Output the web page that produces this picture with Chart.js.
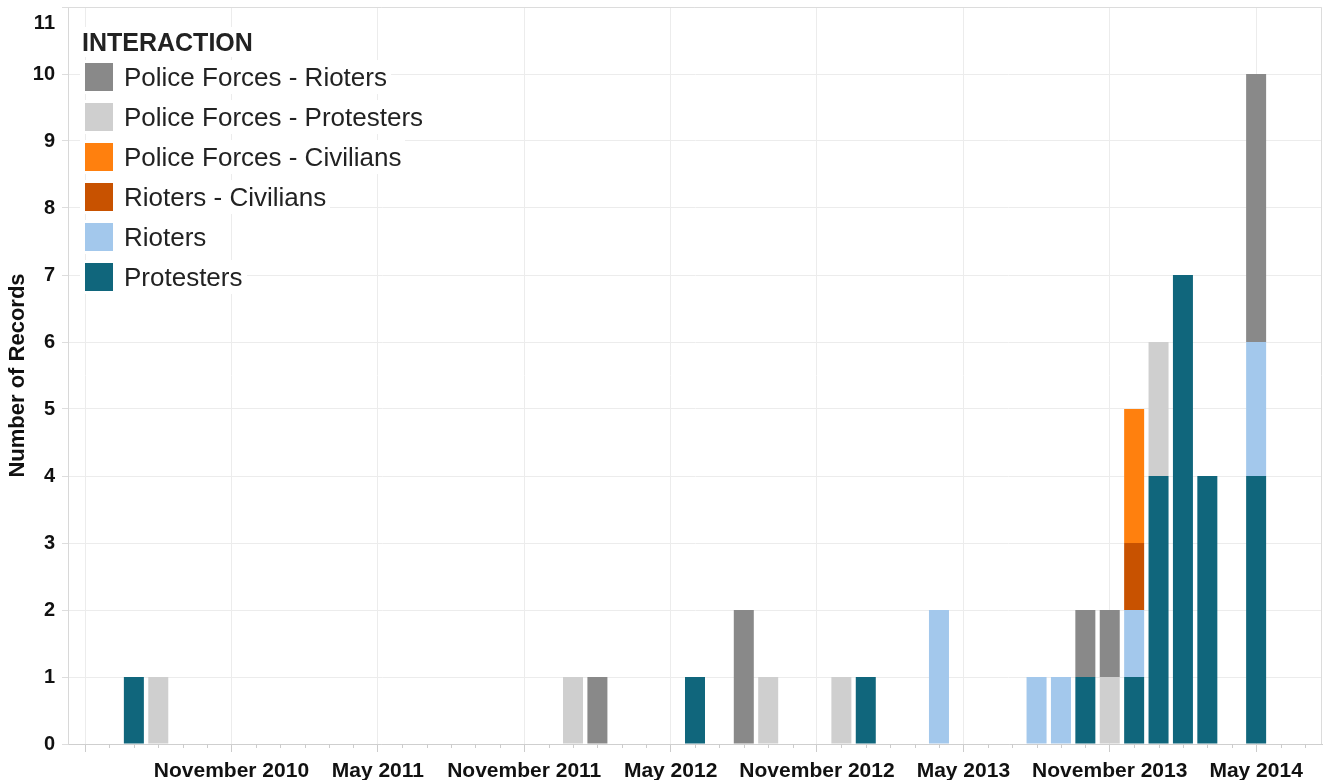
<!DOCTYPE html>
<html>
<head>
<meta charset="utf-8">
<script src="https://cdn.jsdelivr.net/npm/chart.js@4/dist/chart.umd.min.js"></script>
<style>
  body { margin: 0; background: #fff; }
  #wrap { position: relative; width: 1328px; height: 780px; }
  #legend { position: absolute; left: 80px; top: 27px; font-family: "Liberation Sans", Arial, sans-serif; color: #222; }
  #legend .title { font-weight: bold; font-size: 25px; height: 30px; line-height: 30px; padding-left: 2px; background: #fff; display: inline-block; }
  #legend .row { height: 40px; display: flex; align-items: center; }
  #legend .item { display: inline-flex; align-items: center; background: #fff; padding-left: 5px; padding-right: 4px; height: 34px; }
  #legend .sw { width: 28px; height: 28px; margin-right: 11px; }
  #legend .txt { font-size: 26px; line-height: 30px; }
</style>
</head>
<body>
<div id="wrap">
  <canvas id="chart" width="1328" height="780"></canvas>
  <div id="legend"></div>
</div>
<script>
const months = [
  'May 2010', 'Jun 2010', 'Jul 2010', 'Aug 2010', 'Sep 2010', 'Oct 2010', 'Nov 2010', 'Dec 2010',
  'Jan 2011', 'Feb 2011', 'Mar 2011', 'Apr 2011', 'May 2011', 'Jun 2011', 'Jul 2011', 'Aug 2011', 'Sep 2011', 'Oct 2011', 'Nov 2011', 'Dec 2011',
  'Jan 2012', 'Feb 2012', 'Mar 2012', 'Apr 2012', 'May 2012', 'Jun 2012', 'Jul 2012', 'Aug 2012', 'Sep 2012', 'Oct 2012', 'Nov 2012', 'Dec 2012',
  'Jan 2013', 'Feb 2013', 'Mar 2013', 'Apr 2013', 'May 2013', 'Jun 2013', 'Jul 2013', 'Aug 2013', 'Sep 2013', 'Oct 2013', 'Nov 2013', 'Dec 2013',
  'Jan 2014', 'Feb 2014', 'Mar 2014', 'Apr 2014', 'May 2014', 'Jun 2014', 'Jul 2014'
]

const labelMonths = ['Nov 2010', 'May 2011', 'Nov 2011', 'May 2012', 'Nov 2012', 'May 2013', 'Nov 2013', 'May 2014']
const tickLabels = ['November 2010', 'May 2011', 'November 2011', 'May 2012', 'November 2012', 'May 2013', 'November 2013', 'May 2014']
const gridMonths = ['May 2010'].concat(labelMonths)

const yTicks = [0, 1, 2, 3, 4, 5, 6, 7, 8, 9, 10, 11]

// [month, number of records]
const protesters = [['Jul 2010', 1], ['Jun 2012', 1], ['Jan 2013', 1], ['Oct 2013', 1], ['Dec 2013', 1], ['Jan 2014', 4], ['Feb 2014', 7], ['Mar 2014', 4], ['May 2014', 4]]
const rioters = [['Apr 2013', 2], ['Aug 2013', 1], ['Sep 2013', 1], ['Dec 2013', 1], ['May 2014', 2]]
const riotersCivilians = [['Dec 2013', 1]]
const policeCivilians = [['Dec 2013', 2]]
const policeProtesters = [['Aug 2010', 1], ['Jan 2012', 1], ['Sep 2012', 1], ['Dec 2012', 1], ['Nov 2013', 1], ['Jan 2014', 2]]
const policeRioters = [['Feb 2012', 1], ['Aug 2012', 2], ['Oct 2013', 1], ['Nov 2013', 1], ['May 2014', 4]]

const FONT = '"Liberation Sans", Arial, sans-serif'

// bottom of the stack first
let series = [
  { label: 'Protesters', data: protesters, color: '#10667c' },
  { label: 'Rioters', data: rioters, color: '#a3c8ec' },
  { label: 'Rioters - Civilians', data: riotersCivilians, color: '#c85200' },
  { label: 'Police Forces - Civilians', data: policeCivilians, color: '#ff800e' },
  { label: 'Police Forces - Protesters', data: policeProtesters, color: '#cfcfcf' },
  { label: 'Police Forces - Rioters', data: policeRioters, color: '#898989' }
]

function isMajor(i) {
  return gridMonths.indexOf(months[i]) >= 0
}

function buildLegend() {
  var legend = document.getElementById('legend')
  var html = '<div class="title">INTERACTION</div>'
  series.slice().reverse().forEach(function(s) {
    html += '<div class="row"><div class="item"><div class="sw" style="background:' + s.color + '"></div>' +
      '<span class="txt">' + s.label + '</span></div></div>'
  })
  legend.innerHTML = html
}

const framePlugin = {
  id: 'frame',
  afterDraw(chart) {
    var ctx = chart.ctx, a = chart.chartArea, x = chart.scales.x
    ctx.save()
    ctx.strokeStyle = '#dcdcdc'
    ctx.lineWidth = 1
    ctx.beginPath()
    ctx.moveTo(a.left, a.top + 0.5)
    ctx.lineTo(a.right - 0.5, a.top + 0.5)
    ctx.lineTo(a.right - 0.5, a.bottom)
    ctx.stroke()
    // short ticks for the months in between
    ctx.strokeStyle = '#cccccc'
    ctx.beginPath()
    months.forEach(function(m, i) {
      if (isMajor(i)) return
      var px = Math.round(x.getPixelForValue(i)) + 0.5
      ctx.moveTo(px, a.bottom)
      ctx.lineTo(px, a.bottom + 4)
    })
    ctx.stroke()
    ctx.restore()
  }
}

new Chart(document.getElementById('chart'), {
  type: 'bar',
  data: {
    datasets: series.map(function(s) {
      return {
        label: s.label,
        data: s.data.map(function(d) { return { x: months.indexOf(d[0]), y: d[1] } }),
        backgroundColor: s.color,
        borderWidth: 0,
        categoryPercentage: 1,
        barPercentage: 0.82
      }
    })
  },
  options: {
    responsive: false,
    animation: false,
    layout: { padding: { top: 7, right: 6, left: 0, bottom: 0 } },
    plugins: { legend: { display: false }, tooltip: { enabled: false } },
    scales: {
      x: {
        type: 'linear',
        stacked: true,
        offset: false,
        min: -0.7,
        max: months.length - 0.3,
        afterBuildTicks: function(scale) { scale.ticks = months.map((m, i) => ({ value: i })) },
        grid: {
          offset: false,
          color: (c) => isMajor(c.index) ? '#ececec' : 'rgba(0,0,0,0)',
          tickColor: (c) => isMajor(c.index) ? '#cccccc' : 'rgba(0,0,0,0)',
          tickLength: 8
        },
        border: { color: '#cfcfcf' },
        ticks: {
          autoSkip: false,
          maxRotation: 0,
          minRotation: 0,
          padding: 7,
          color: '#111',
          font: { family: FONT, size: 21, weight: 'bold' },
          callback: function(v) {
            var k = labelMonths.indexOf(months[v])
            return k >= 0 ? tickLabels[k] : ''
          }
        },
        afterFit: function(scale) { scale.height = 36 }
      },
      y: {
        stacked: true,
        min: yTicks[0],
        max: yTicks[yTicks.length - 1],
        afterBuildTicks: function(scale) { scale.ticks = yTicks.map(v => ({ value: v })) },
        grid: { color: '#ececec', tickColor: '#dddddd', tickLength: 6 },
        border: { color: '#d8d8d8' },
        ticks: {
          autoSkip: false,
          padding: 7,
          color: '#111',
          font: { family: FONT, size: 20, weight: 'bold', lineHeight: 1.6 },
          // top label sits just under the frame, as in the original
          callback: (v) => v === yTicks[yTicks.length - 1] ? ['', String(v)] : String(v)
        },
        title: {
          display: true,
          text: 'Number of Records',
          color: '#111',
          padding: { top: 5, bottom: 0 },
          font: { family: FONT, size: 22, weight: 'bold' }
        },
        afterFit: function(scale) {
          scale.width = 68
          scale.paddingTop = 0
        }
      }
    }
  },
  plugins: [framePlugin]
})

buildLegend()
</script>
</body>
</html>
